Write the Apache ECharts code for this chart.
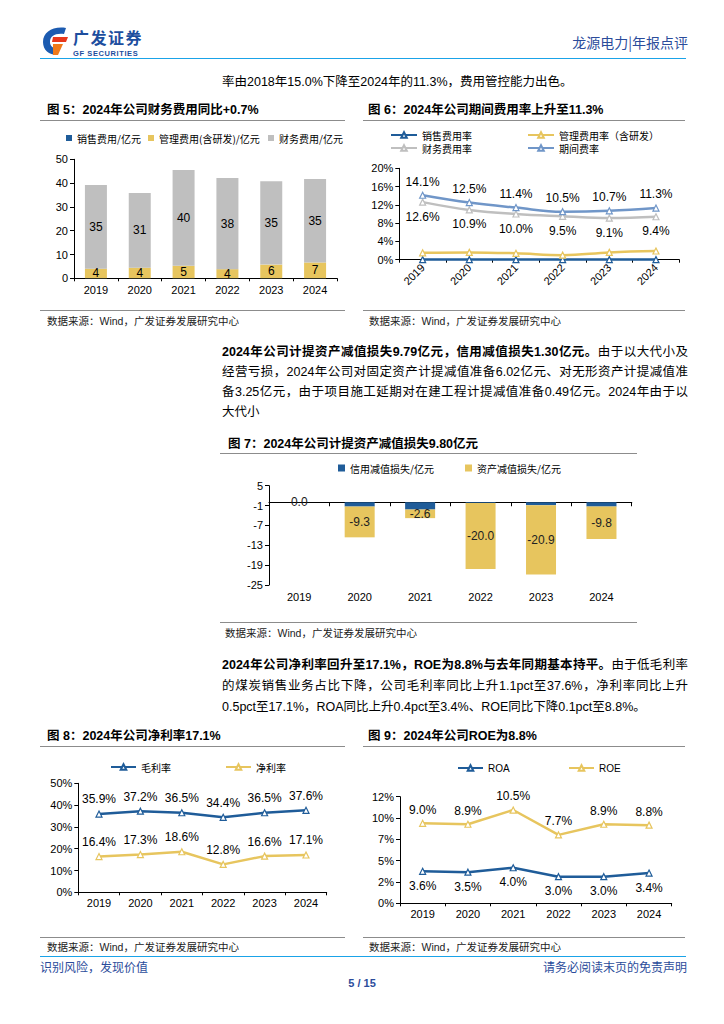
<!DOCTYPE html>
<html><head><meta charset="utf-8">
<script src="https://cdn.jsdelivr.net/npm/echarts/dist/echarts.min.js"></script>
<style>
body{margin:0;background:#fff;}
#page{position:relative;width:724px;height:1024px;overflow:hidden;background:#fff;font-family:"Liberation Sans","Noto Sans CJK SC",sans-serif;color:#000;}
.abs{position:absolute;white-space:nowrap;}
.t{position:absolute;white-space:nowrap;font-size:12.5px;font-weight:bold;line-height:16px;}
.src{position:absolute;white-space:nowrap;font-size:10.5px;line-height:14px;color:#222;}
.hl{position:absolute;height:0;border-top:1.5px solid #8c8c8c;}
.p{position:absolute;left:222px;width:466px;font-size:12.5px;line-height:18px;white-space:nowrap;text-align:justify;text-align-last:justify;}
.pl{text-align-last:left;}
.chart{position:absolute;}
</style></head>
<body><div id="page">
<!-- header -->
<svg class="abs" style="left:41px;top:26px" width="28" height="30" viewBox="0 0 28 30">
<path d="M25 2 C12 0 2 6 2 16 C2 24 8 29 16 29 L18 23 C12 23 9 20 9 16 C9 10 14 7 23 8 Z" fill="#1c5bb0"/>
<path d="M12 11 L27 11 L25 16 L11 16 Z" fill="#e8381c"/>
<path d="M12 18 L22 18 L17 29 L12 29 Z" fill="#f07a1a"/>
</svg>
<div class="abs" style="left:73px;top:29px;font-size:16px;line-height:16px;font-weight:bold;color:#1D4E9E;letter-spacing:1.5px;font-family:'Noto Sans CJK SC'">广发证券</div>
<div class="abs" style="left:73px;top:50px;font-size:7.5px;line-height:8px;font-weight:bold;color:#1D4E9E;letter-spacing:0.6px;">GF SECURITIES</div>
<div class="abs" style="right:36px;top:34px;font-size:14px;line-height:17px;color:#2B4C9B;font-family:'Noto Sans CJK SC'">龙源电力|年报点评</div>
<div class="abs" style="left:40px;top:58px;width:646px;height:0;border-top:1.5px solid #1AA3E8"></div>

<div class="p pl" style="top:73px;">率由2018年15.0%下降至2024年的11.3%，费用管控能力出色。</div>

<!-- figure 5 / 6 titles -->
<div class="t" style="left:47px;top:102px;">图 5：2024年公司财务费用同比+0.7%</div>
<div class="hl" style="left:40px;top:120px;width:305px;"></div>
<div class="t" style="left:368px;top:102px;">图 6：2024年公司期间费用率上升至11.3%</div>
<div class="hl" style="left:363px;top:120px;width:322px;"></div>
<div class="chart" id="c5" style="left:40px;top:125px;width:310px;height:180px;"></div>
<div class="chart" id="c6" style="left:360px;top:125px;width:330px;height:180px;"></div>
<div class="hl" style="left:40px;top:310px;width:305px;"></div>
<div class="hl" style="left:363px;top:310px;width:322px;"></div>
<div class="src" style="left:47px;top:314px;">数据来源：Wind，广发证券发展研究中心</div>
<div class="src" style="left:369px;top:314px;">数据来源：Wind，广发证券发展研究中心</div>

<!-- paragraph 2 -->
<div class="p" style="top:343px;"><b>2024年公司计提资产减值损失9.79亿元，信用减值损失1.30亿元。</b>由于以大代小及</div>
<div class="p" style="top:363px;">经营亏损，2024年公司对固定资产计提减值准备6.02亿元、对无形资产计提减值准</div>
<div class="p" style="top:383px;">备3.25亿元，由于项目施工延期对在建工程计提减值准备0.49亿元。2024年由于以</div>
<div class="p pl" style="top:403px;">大代小</div>

<div class="t" style="left:228px;top:436px;">图 7：2024年公司计提资产减值损失9.80亿元</div>
<div class="hl" style="left:220px;top:453px;width:417px;"></div>
<div class="chart" id="c7" style="left:220px;top:455px;width:420px;height:165px;"></div>
<div class="hl" style="left:220px;top:621.5px;width:417px;"></div>
<div class="src" style="left:225px;top:626px;">数据来源：Wind，广发证券发展研究中心</div>

<!-- paragraph 3 -->
<div class="p" style="top:656px;"><b>2024年公司净利率回升至17.1%，ROE为8.8%与去年同期基本持平。</b>由于低毛利率</div>
<div class="p" style="top:677px;">的煤炭销售业务占比下降，公司毛利率同比上升1.1pct至37.6%，净利率同比上升</div>
<div class="p pl" style="top:698px;">0.5pct至17.1%，ROA同比上升0.4pct至3.4%、ROE同比下降0.1pct至8.8%。</div>

<div class="t" style="left:47px;top:728px;">图 8：2024年公司净利率17.1%</div>
<div class="hl" style="left:40px;top:746px;width:305px;"></div>
<div class="t" style="left:368px;top:728px;">图 9：2024年公司ROE为8.8%</div>
<div class="hl" style="left:363px;top:746px;width:322px;"></div>
<div class="chart" id="c8" style="left:40px;top:750px;width:310px;height:175px;"></div>
<div class="chart" id="c9" style="left:360px;top:750px;width:330px;height:175px;"></div>
<div class="hl" style="left:40px;top:936.5px;width:305px;"></div>
<div class="hl" style="left:363px;top:936.5px;width:322px;"></div>
<div class="src" style="left:47px;top:940px;">数据来源：Wind，广发证券发展研究中心</div>
<div class="src" style="left:369px;top:940px;">数据来源：Wind，广发证券发展研究中心</div>

<!-- footer -->
<div class="abs" style="left:40px;top:955.5px;width:646px;height:0;border-top:1.5px solid #1AA3E8"></div>
<div class="abs" style="left:40px;top:959px;font-size:12px;line-height:16px;color:#2B4C9B;font-family:'Noto Sans CJK SC'">识别风险，发现价值</div>
<div class="abs" style="right:37px;top:959px;font-size:12px;line-height:16px;color:#2B4C9B;font-family:'Noto Sans CJK SC'">请务必阅读末页的免责声明</div>
<div class="abs" style="left:0;width:724px;text-align:center;top:976px;font-size:11px;line-height:14px;font-weight:bold;color:#2B4C9B;">5 / 15</div>
</div>
<script>
// ---- data ----
const years = ['2019','2020','2021','2022','2023','2024'];
// Fig 5 (亿元)
const salesExp = [0.05,0.05,0.05,0.05,0.05,0.05];
const mgmtExp  = [4.0,4.4,5.2,3.8,5.7,6.6];
const finExp   = [35.2,31.4,40.3,38.3,35.0,35.1];
// Fig 6 (%)
const salesRate  = [0.02,0.02,0.02,0.02,0.02,0.02];
const mgmtRate   = [1.5,1.6,1.4,1.0,1.6,1.9];
const finRate    = [12.6,10.9,10.0,9.5,9.1,9.4];
const periodRate = [14.1,12.5,11.4,10.5,10.7,11.3];
// Fig 7 (亿元)
const creditLoss = [0,-1.3,-2.2,-0.2,-0.9,-1.3];
const assetLoss  = [0,-9.3,-2.6,-20.0,-20.9,-9.8];
// Fig 8 (%)
const grossMargin = [35.9,37.2,36.5,34.4,36.5,37.6];
const netMargin   = [16.4,17.3,18.6,12.8,16.6,17.1];
// Fig 9 (%)
const roa = [3.6,3.5,4.0,3.0,3.0,3.4];
const roe = [9.0,8.9,10.5,7.7,8.9,8.8];

const BLUE='#1F5C99', YEL='#E7C55E', GRAY='#BFBFBF', LBLUE='#7096C8';
const NUMF='Liberation Sans', CJKF='Noto Sans CJK SC';
const axLine={show:true,onZero:false,lineStyle:{color:'#000',width:1}};
const axTick={show:true,length:4,lineStyle:{color:'#000'}};
function lab(m){return {color:'#000',fontSize:11,fontFamily:NUMF,margin:m};}
function lg(name,left,top,w,h,icon,font){
  const o={data:[name],left:left,top:top,itemWidth:w,itemHeight:h,padding:0,
    textStyle:{fontSize:10,color:'#000',fontFamily:font||CJKF}};
  if(icon) o.icon=icon;
  return o;
}
function mk(id,opt){const c=echarts.init(document.getElementById(id),null,{renderer:'svg'});opt.animation=false;c.setOption(opt);}
function lineS(name,data,color,pos,dist,smooth){
  return {name:name,type:'line',data:data,smooth:smooth||false,symbol:'triangle',symbolSize:6,
    lineStyle:{color:color,width:2.5},itemStyle:{color:'#fff',borderColor:color,borderWidth:1.2},
    label:pos?{show:true,position:pos,distance:dist,color:'#000',fontSize:12,fontFamily:NUMF,
      formatter:p=>p.value.toFixed(1)+'%'}:{show:false}};
}

// Fig 5
mk('c5',{
  legend:[lg('销售费用/亿元',26,8,6,6,'rect'),lg('管理费用(含研发)/亿元',108,8,6,6,'rect'),lg('财务费用/亿元',228,8,6,6,'rect')],
  grid:{left:34,top:34.3,width:263,height:119},
  xAxis:{type:'category',data:years,axisLine:axLine,axisTick:{show:true,length:3,lineStyle:{color:'#000'}},axisLabel:lab(6)},
  yAxis:{type:'value',min:0,max:50,interval:10,axisLine:axLine,axisTick:axTick,axisLabel:lab(6),splitLine:{show:false}},
  series:[
    {name:'销售费用/亿元',type:'bar',stack:'a',data:salesExp,barWidth:22,itemStyle:{color:BLUE}},
    {name:'管理费用(含研发)/亿元',type:'bar',stack:'a',data:mgmtExp,barWidth:22,itemStyle:{color:YEL},
      label:{show:true,position:'inside',color:'#000',fontSize:12,fontFamily:NUMF,formatter:p=>Math.round(p.value)}},
    {name:'财务费用/亿元',type:'bar',stack:'a',data:finExp,barWidth:22,itemStyle:{color:GRAY},
      label:{show:true,position:'inside',color:'#000',fontSize:12,fontFamily:NUMF,formatter:p=>Math.round(p.value)}}
  ]
});

// Fig 6
mk('c6',{
  legend:[lg('销售费用率',30,5,26,7),lg('管理费用率（含研发）',167,5,26,7),lg('财务费用率',30,18,26,7),lg('期间费率',167,18,26,7)],
  grid:{left:39.3,top:43.3,width:280,height:91.4},
  xAxis:{type:'category',data:years,axisLine:axLine,axisTick:{show:true,length:3,lineStyle:{color:'#000'}},
    axisLabel:Object.assign(lab(6),{rotate:45})},
  yAxis:{type:'value',min:0,max:20,interval:4,axisLine:axLine,axisTick:axTick,
    axisLabel:Object.assign(lab(6),{formatter:'{value}%'}),splitLine:{show:false}},
  series:[
    lineS('销售费用率',salesRate,BLUE,null,0,0.4),
    lineS('管理费用率（含研发）',mgmtRate,YEL,null,0,0.4),
    lineS('财务费用率',finRate,GRAY,'bottom',5,0.4),
    lineS('期间费率',periodRate,LBLUE,'top',4,0.4)
  ]
});

// Fig 7
mk('c7',{
  legend:[lg('信用减值损失/亿元',118,8,7,7,'rect'),lg('资产减值损失/亿元',245,8,7,7,'rect')],
  grid:{left:49,top:30.7,width:362.7,height:99.3},
  xAxis:[
    {type:'category',data:years,position:'bottom',axisLine:{show:true,onZero:true,lineStyle:{color:'#000',width:1.2}},
      axisTick:{show:true,length:4,lineStyle:{color:'#000'}},axisLabel:{show:false}},
    {type:'category',data:years,position:'bottom',axisLine:{show:false,onZero:false},axisTick:{show:false},axisLabel:lab(6)}
  ],
  yAxis:{type:'value',min:-25,max:5,interval:6,axisLine:axLine,axisTick:axTick,axisLabel:lab(6),splitLine:{show:false}},
  series:[
    {name:'信用减值损失/亿元',type:'bar',stack:'b',xAxisIndex:0,data:creditLoss,barWidth:30,itemStyle:{color:BLUE}},
    {name:'资产减值损失/亿元',type:'bar',stack:'b',xAxisIndex:0,data:assetLoss,barWidth:30,itemStyle:{color:YEL},
      label:{show:true,position:'inside',color:'#222',fontSize:12,fontFamily:NUMF,formatter:p=>p.value.toFixed(1)}}
  ]
});

// Fig 8
mk('c8',{
  legend:[lg('毛利率',70,12,25,7),lg('净利率',185,12,25,7)],
  grid:{left:38.3,top:33.3,width:248.4,height:109},
  xAxis:{type:'category',data:years,axisLine:axLine,axisTick:{show:true,length:3,lineStyle:{color:'#000'}},axisLabel:lab(5)},
  yAxis:{type:'value',min:0,max:50,interval:10,axisLine:axLine,axisTick:axTick,
    axisLabel:Object.assign(lab(6),{formatter:'{value}%'}),splitLine:{show:false}},
  series:[lineS('毛利率',grossMargin,BLUE,'top',5),lineS('净利率',netMargin,YEL,'top',5)]
});

// Fig 9
mk('c9',{
  legend:[lg('ROA',97,13,25,7,null,NUMF),lg('ROE',208,13,25,7,null,NUMF)],
  grid:{left:40,top:46.7,width:271.7,height:106.6},
  xAxis:{type:'category',data:years,axisLine:axLine,axisTick:{show:true,length:3,lineStyle:{color:'#000'}},axisLabel:lab(5)},
  yAxis:{type:'value',min:0,max:12,interval:2.4,axisLine:axLine,axisTick:axTick,
    axisLabel:Object.assign(lab(6),{formatter:v=>Math.round(v)+'%'}),splitLine:{show:false}},
  series:[lineS('ROA',roa,BLUE,'bottom',5),lineS('ROE',roe,YEL,'top',4)]
});
</script>
</body></html>
